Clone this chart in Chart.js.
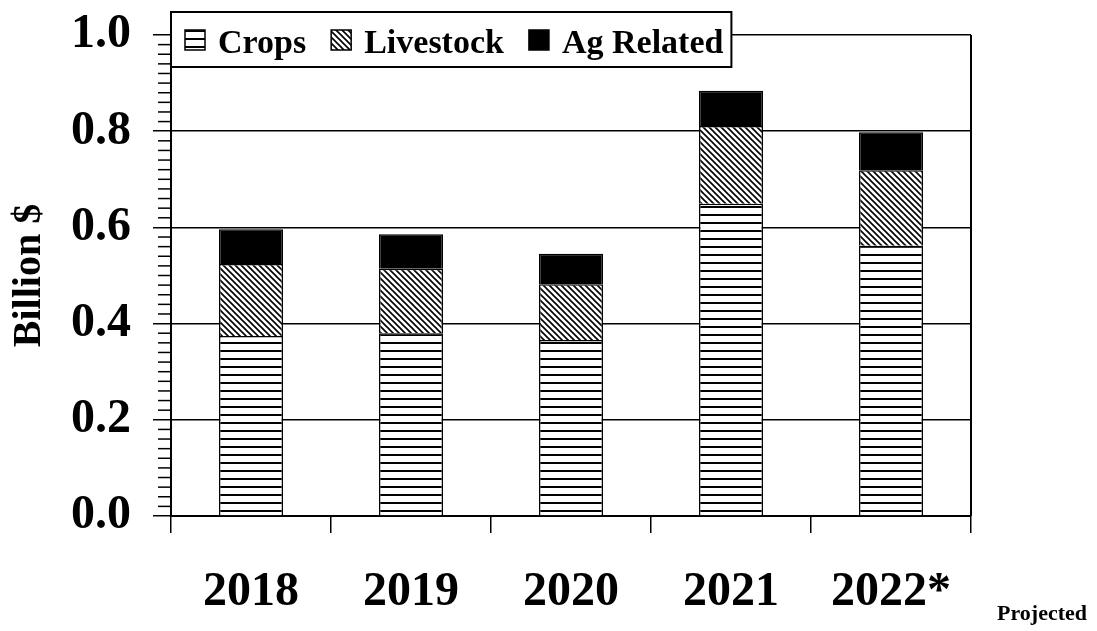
<!DOCTYPE html>
<html>
<head>
<meta charset="utf-8">
<script src="https://cdn.jsdelivr.net/npm/chart.js@4.4.1/dist/chart.umd.min.js"></script>
<style>
  html, body { margin: 0; padding: 0; background: #fff; }
  #wrap { width: 1097px; height: 631px; position: relative; }
</style>
</head>
<body>
<div id="wrap"><canvas id="farmChart"></canvas></div>
<script>
const years = ['2018', '2019', '2020', '2021', '2022*'];
const crops = [0.374, 0.380, 0.366, 0.649, 0.562];
const livestock = [0.150, 0.134, 0.116, 0.162, 0.157];
const agRelated = [0.072, 0.072, 0.063, 0.073, 0.079];
const yTicks = [0, 0.2, 0.4, 0.6, 0.8, 1.0];

const SERIF = "'Liberation Serif', 'Times New Roman', serif";

// fill patterns for the black & white bars
function stripePattern() {
    const c = document.createElement('canvas');
    c.width = 8; c.height = 8;
    const g = c.getContext('2d');
    g.fillStyle = '#fff';
    g.fillRect(0, 0, 8, 8);
    g.fillStyle = '#000';
    g.fillRect(0, 6, 8, 2);
    return g.createPattern(c, 'repeat');
}

function hatchPattern() {
    const c = document.createElement('canvas');
    c.width = 6; c.height = 6;
    const g = c.getContext('2d');
    g.fillStyle = '#fff';
    g.fillRect(0, 0, 6, 6);
    g.strokeStyle = '#000';
    g.lineWidth = 1.6;
    g.beginPath();
    g.moveTo(-1, -1); g.lineTo(7, 7);
    g.moveTo(-1, 5); g.lineTo(1, 7);
    g.moveTo(5, -1); g.lineTo(7, 1);
    g.stroke();
    return g.createPattern(c, 'repeat');
}

const extras = {
    id: 'extras',
    afterDraw(chart) {
        const ctx = chart.ctx;
        const area = chart.chartArea;
        const y = chart.scales.y;
        ctx.save();
        ctx.strokeStyle = '#000';

        // minor ticks every 0.02
        ctx.lineWidth = 1.5;
        for (let i = 1; i < 50; i++) {
            if (i % 10 === 0) continue;
            const py = y.getPixelForValue(i / 50);
            ctx.beginPath();
            ctx.moveTo(area.left - 13, py);
            ctx.lineTo(area.left, py);
            ctx.stroke();
        }

        // right border of plot
        ctx.lineWidth = 2;
        ctx.beginPath();
        ctx.moveTo(area.right, area.top);
        ctx.lineTo(area.right, area.bottom);
        ctx.stroke();

        // boxed legend over the top of the plot
        ctx.font = 'bold 34px ' + SERIF;
        ctx.textBaseline = 'alphabetic';
        let x = area.left + 14;
        const items = chart.data.datasets.map(ds => {
            const item = { ds, sx: x, tx: x + 33 };
            x = item.tx + ctx.measureText(ds.label).width + 25;
            return item;
        });
        const boxRight = x - 25 + 8;
        ctx.fillStyle = '#fff';
        ctx.fillRect(area.left, 12, boxRight - area.left, 55);
        ctx.lineWidth = 2;
        ctx.strokeRect(area.left, 12, boxRight - area.left, 55);
        items.forEach(it => {
            ctx.fillStyle = it.ds.backgroundColor;
            ctx.fillRect(it.sx, 30, 20, 20);
            ctx.lineWidth = 1.5;
            ctx.strokeRect(it.sx, 30, 20, 20);
            ctx.fillStyle = '#000';
            ctx.fillText(it.ds.label, it.tx, 53);
        });

        // note under last category
        ctx.font = 'bold 22px ' + SERIF;
        ctx.fillText('Projected', area.right + 26, 620);
        ctx.restore();
    }
};

const ctx = document.getElementById('farmChart').getContext('2d');

new Chart(ctx, {
    type: 'bar',
    data: {
        labels: years,
        datasets: [{
            label: 'Crops',
            data: crops,
            backgroundColor: stripePattern(),
            borderColor: '#000',
            borderWidth: 1.5
        }, {
            label: 'Livestock',
            data: livestock,
            backgroundColor: hatchPattern(),
            borderColor: '#000',
            borderWidth: 1.5
        }, {
            label: 'Ag Related',
            data: agRelated,
            backgroundColor: '#000',
            borderColor: '#000',
            borderWidth: 1.5
        }]
    },
    options: {
        responsive: true,
        maintainAspectRatio: false,
        animation: false,
        barPercentage: 0.4,
        categoryPercentage: 1.0,
        layout: { padding: { top: 35, right: 126, left: 0, bottom: 0 } },
        plugins: {
            legend: { display: false },
            tooltip: { enabled: false }
        },
        scales: {
            x: {
                stacked: true,
                grid: { offset: true, drawOnChartArea: false, tickLength: 17, color: '#000', lineWidth: 1.5 },
                border: { color: '#000', width: 2 },
                ticks: { color: '#000', padding: 31, font: { family: SERIF, size: 48, weight: 'bold' } },
                afterFit: s => { s.height = 115; s.paddingLeft = 0; s.paddingRight = 0; }
            },
            y: {
                stacked: true,
                min: 0,
                max: 1,
                afterBuildTicks: s => { s.ticks = yTicks.map(v => ({ value: v })); },
                grid: { color: '#000', lineWidth: 1.5, tickLength: 18 },
                border: { color: '#000', width: 2 },
                ticks: {
                    color: '#000',
                    padding: 22,
                    font: { family: SERIF, size: 48, weight: 'bold' },
                    callback: v => Number(v).toFixed(1)
                },
                title: {
                    display: true,
                    text: 'Billion $',
                    color: '#000',
                    padding: { top: 6, bottom: 0 },
                    font: { family: SERIF, size: 40, weight: 'bold' }
                },
                afterFit: s => { s.width = 171; s.paddingTop = 0; s.paddingBottom = 0; }
            }
        }
    },
    plugins: [extras]
});
</script>
</body>
</html>
